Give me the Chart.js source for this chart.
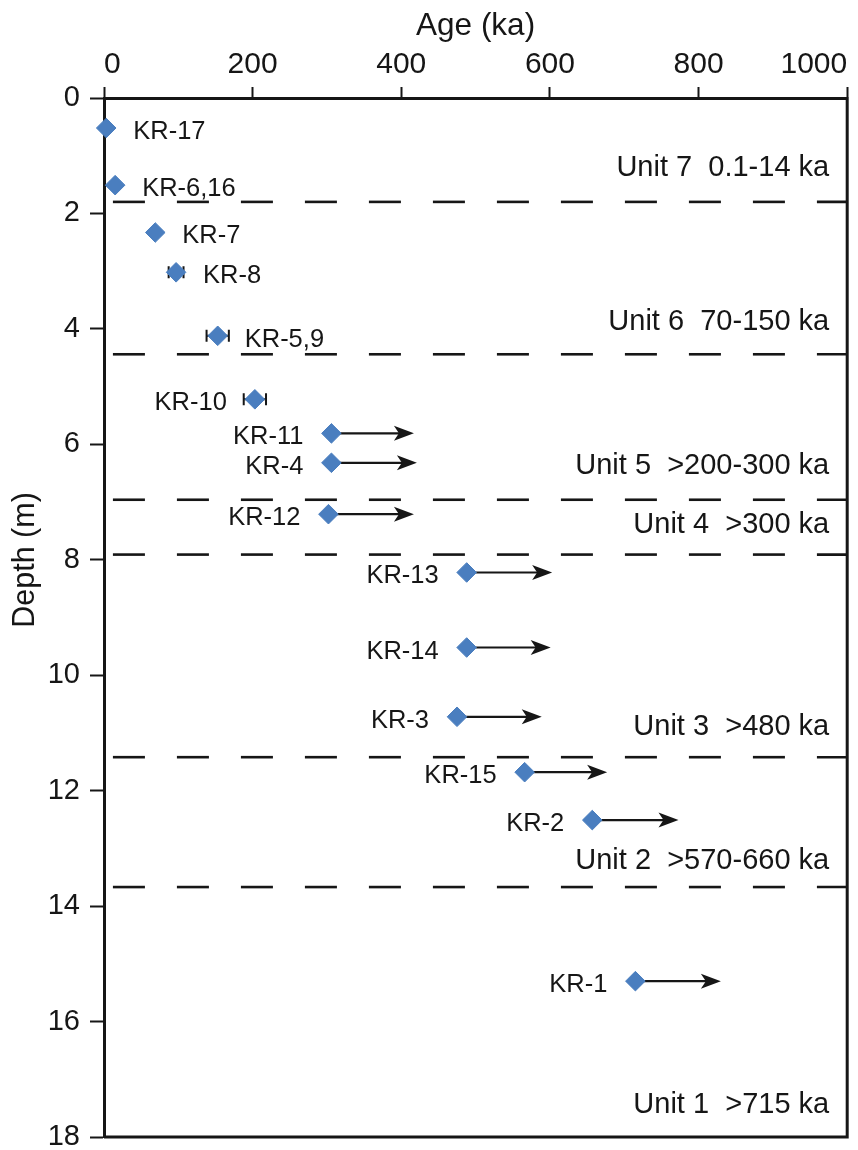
<!DOCTYPE html>
<html>
<head>
<meta charset="utf-8">
<script src="https://cdn.jsdelivr.net/npm/chart.js@4/dist/chart.umd.min.js"></script>
<style>
  html, body { margin: 0; padding: 0; background: #ffffff; }
  #wrap { width: 858px; height: 1150px; position: relative; }
</style>
</head>
<body>
<div id="wrap"><canvas id="chart"></canvas></div>
<script>
// ---- data ----
const sampleNames = ['KR-17','KR-6,16','KR-7','KR-8','KR-5,9','KR-10','KR-11','KR-4','KR-12','KR-13','KR-14','KR-3','KR-15','KR-2','KR-1'];
const ageKa       = [3, 15, 69, 97, 153, 203, 306, 306, 302, 488, 488, 475, 566, 657, 715];
const depthM      = [0.52, 1.51, 2.33, 3.02, 4.12, 5.22, 5.81, 6.32, 7.21, 8.22, 9.52, 10.72, 11.68, 12.51, 15.30];
const ageError    = [0, 0, 0, 10, 15, 15, 0, 0, 0, 0, 0, 0, 0, 0, 0];
const minAgeArrowTo = [null, null, null, null, null, null, 417, 421, 417, 603, 601, 589, 677, 773, 830];
const labelSide   = ['right','right','right','right','right','left','left','left','left','left','left','left','left','left','left'];
const boundaryDepths = [1.8, 4.44, 6.96, 7.91, 11.42, 13.67];
const unitLabels  = ['Unit 7  0.1-14 ka','Unit 6  70-150 ka','Unit 5  >200-300 ka','Unit 4  >300 ka','Unit 3  >480 ka','Unit 2  >570-660 ka','Unit 1  >715 ka'];
const unitLabelDepths = [1.35, 4.02, 6.51, 7.54, 11.04, 13.35, 17.59];
const ageTicks    = [0, 200, 400, 600, 800, 1000];
const depthTicks  = [0, 2, 4, 6, 8, 10, 12, 14, 16, 18];

// ---- style ----
const FONT = '"Liberation Sans", Arial, Helvetica, sans-serif';
const INK = '#161616';
const BLUE = '#4a7ebf';
const LINE_START_AGE = 12;

const overlay = {
  id: 'overlay',
  beforeDatasetsDraw(chart) {
    const { ctx, scales: { x, y } } = chart;
    ctx.save();
    ctx.strokeStyle = INK;
    ctx.fillStyle = INK;
    // error bars
    ageKa.forEach((a, i) => {
      const e = ageError[i];
      if (!e) return;
      const py = y.getPixelForValue(depthM[i]);
      const x1 = x.getPixelForValue(a - e);
      const x2 = x.getPixelForValue(a + e);
      ctx.lineWidth = 2;
      ctx.beginPath();
      ctx.moveTo(x1, py); ctx.lineTo(x2, py);
      ctx.moveTo(x1, py - 6); ctx.lineTo(x1, py + 6);
      ctx.moveTo(x2, py - 6); ctx.lineTo(x2, py + 6);
      ctx.stroke();
    });
    // minimum-age arrows
    ageKa.forEach((a, i) => {
      const to = minAgeArrowTo[i];
      if (to == null) return;
      const py = y.getPixelForValue(depthM[i]);
      const px = x.getPixelForValue(a);
      const tx = x.getPixelForValue(to);
      ctx.lineWidth = 2.2;
      ctx.beginPath();
      ctx.moveTo(px, py); ctx.lineTo(tx - 12, py);
      ctx.stroke();
      ctx.beginPath();
      ctx.moveTo(tx, py);
      ctx.lineTo(tx - 20, py - 7.5);
      ctx.lineTo(tx - 15, py);
      ctx.lineTo(tx - 20, py + 7.5);
      ctx.closePath();
      ctx.fill();
    });
    ctx.restore();
  },
  afterDatasetsDraw(chart) {
    const { ctx, chartArea, scales: { x, y } } = chart;
    ctx.save();
    ctx.fillStyle = INK;
    ctx.textBaseline = 'alphabetic';
    // sample labels
    ctx.font = '25.5px ' + FONT;
    sampleNames.forEach((name, i) => {
      const px = x.getPixelForValue(ageKa[i]);
      const py = y.getPixelForValue(depthM[i]);
      if (labelSide[i] === 'right') {
        ctx.textAlign = 'left';
        ctx.fillText(name, px + 27, py + 11);
      } else {
        ctx.textAlign = 'right';
        ctx.fillText(name, px - 28, py + 11);
      }
    });
    // unit labels
    ctx.font = '29px ' + FONT;
    ctx.textAlign = 'right';
    unitLabels.forEach((t, i) => {
      ctx.fillText(t, chartArea.right - 18, y.getPixelForValue(unitLabelDepths[i]));
    });
    ctx.restore();
  },
  afterDraw(chart) {
    const { ctx, chartArea } = chart;
    ctx.save();
    ctx.strokeStyle = INK;
    ctx.lineWidth = 3;
    ctx.beginPath();
    ctx.moveTo(chartArea.right, chartArea.top - 1);
    ctx.lineTo(chartArea.right, chartArea.bottom);
    ctx.lineTo(chartArea.left, chartArea.bottom);
    ctx.stroke();
    // y axis title
    ctx.fillStyle = INK;
    ctx.font = '30.5px ' + FONT;
    ctx.translate(33.5, 560);
    ctx.rotate(-Math.PI / 2);
    ctx.textAlign = 'center';
    ctx.textBaseline = 'alphabetic';
    ctx.fillText('Depth (m)', 0, 0);
    ctx.restore();
  }
};

const boundaryDatasets = boundaryDepths.map(d => ({
  type: 'line',
  data: [{ x: LINE_START_AGE, y: d }, { x: 1000, y: d }],
  borderColor: INK,
  borderWidth: 2.6,
  borderDash: [32, 32],
  borderCapStyle: 'butt',
  pointRadius: 0,
  fill: false,
  order: 2
}));

const sampleDataset = {
  type: 'scatter',
  data: ageKa.map((a, i) => ({ x: a, y: depthM[i] })),
  pointStyle: 'rectRot',
  pointRadius: 9.8,
  backgroundColor: BLUE,
  borderColor: BLUE,
  borderWidth: 1,
  clip: false,
  order: 1
};

new Chart(document.getElementById('chart'), {
  type: 'scatter',
  data: { datasets: [...boundaryDatasets, sampleDataset] },
  options: {
    responsive: true,
    maintainAspectRatio: false,
    animation: false,
    events: [],
    layout: { padding: { left: 0, top: 0, right: 9, bottom: 13 } },
    plugins: { legend: { display: false }, tooltip: { enabled: false } },
    scales: {
      x: {
        type: 'linear',
        position: 'top',
        min: 0, max: 1000,
        afterBuildTicks: s => { s.ticks = ageTicks.map(v => ({ value: v })); },
        afterFit: s => { s.height = 98; s.paddingLeft = 0; s.paddingRight = 0; },
        ticks: { font: { family: FONT, size: 30 }, color: INK, padding: 4, align: 'inner', maxRotation: 0, callback: v => String(v) },
        grid: { drawOnChartArea: false, drawTicks: true, tickLength: 11, tickColor: INK, tickWidth: 2 },
        border: { display: true, color: INK, width: 3 },
        title: { display: true, text: 'Age (ka)', font: { family: FONT, size: 31.5 }, color: INK, padding: { top: 7, bottom: 0 } }
      },
      y: {
        type: 'linear',
        position: 'left',
        reverse: true,
        min: 0, max: 18,
        afterBuildTicks: s => { s.ticks = depthTicks.map(v => ({ value: v })); },
        afterFit: s => { s.width = 104; s.paddingTop = 0; s.paddingBottom = 0; },
        ticks: { font: { family: FONT, size: 29 }, color: INK, padding: 10, callback: v => String(v) },
        grid: { drawOnChartArea: false, drawTicks: true, tickLength: 14, tickColor: INK, tickWidth: 2 },
        border: { display: true, color: INK, width: 3 },
        title: { display: false }
      }
    }
  },
  plugins: [overlay]
});
</script>
</body>
</html>
